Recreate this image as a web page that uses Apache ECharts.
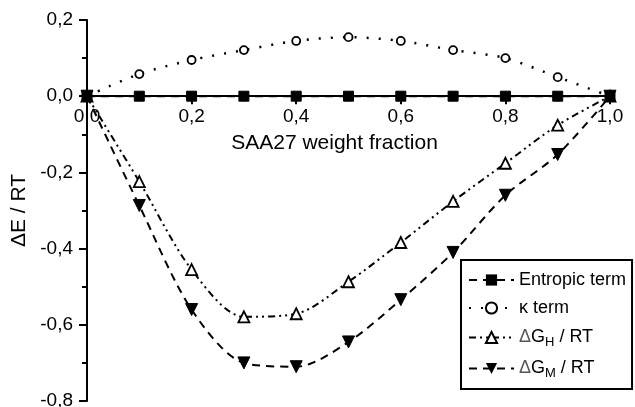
<!DOCTYPE html>
<html>
<head>
<meta charset="utf-8">
<script src="https://cdn.jsdelivr.net/npm/echarts@6/dist/echarts.min.js"></script>
<style>
  html, body { margin: 0; padding: 0; background: #fff; }
  #main { width: 635px; height: 407px; }
</style>
</head>
<body>
<div id="main"></div>
<script>
// weight fraction of SAA27
const fractions = [0, 0.1, 0.2, 0.3, 0.4, 0.5, 0.6, 0.7, 0.8, 0.9, 1.0];
// series values
const entropicTerm = [0, 0, 0, 0, 0, 0, 0, 0, 0, 0, 0];
const kappaTerm = [0, 0.058, 0.095, 0.121, 0.145, 0.155, 0.145, 0.121, 0.1, 0.05, 0];
const dGH = [0, -0.224, -0.455, -0.579, -0.571, -0.487, -0.384, -0.276, -0.176, -0.076, 0];
const dGM = [0, -0.287, -0.56, -0.70, -0.71, -0.645, -0.534, -0.41, -0.26, -0.153, 0];

const pairs = (ys) => fractions.map((x, i) => [x, ys[i]]);
const comma = (v) => v.toFixed(1).replace('.', ',');

const font = 'Liberation Sans, Arial, sans-serif';

// plot area (px)
const gTop = 20, gBottom = 6, H = 407;
const yMin = -0.8, yMax = 0.2;
// lift the x axis up to the y = 0 line
const zeroLift = -((H - gTop - gBottom) * (0 - yMin) / (yMax - yMin));

let myChart = echarts.init(document.getElementById('main'));
let option = {
    animation: false,
    backgroundColor: '#fff',
    textStyle: { fontFamily: font, color: '#000' },
    grid: { left: 87, right: 25, top: gTop, bottom: gBottom, outerBoundsMode: 'none', containLabel: false },
    xAxis: {
        type: 'value',
        min: 0, max: 1, interval: 0.2,
        position: 'bottom',
        offset: zeroLift,
        name: 'SAA27 weight fraction',
        nameLocation: 'middle',
        nameGap: 37,
        nameTextStyle: { fontSize: 21, color: '#000', padding: [0, 28, 0, 0] },
        axisLine: { onZero: false, lineStyle: { color: '#000', width: 2 } },
        axisTick: { show: true, length: 8, lineStyle: { color: '#000', width: 2 } },
        minorTick: { show: true, splitNumber: 2, length: 5, lineStyle: { color: '#000', width: 2 } },
        axisLabel: { fontSize: 19, color: '#000', margin: 11, formatter: comma },
        splitLine: { show: false }
    },
    yAxis: {
        type: 'value',
        min: yMin, max: yMax, interval: 0.2,
        name: 'ΔE / RT',
        nameLocation: 'middle',
        nameGap: 50,
        nameTextStyle: { fontSize: 21, color: '#000' },
        axisLine: { show: true, onZero: false, lineStyle: { color: '#000', width: 2 } },
        axisTick: { show: true, length: 8, lineStyle: { color: '#000', width: 2 } },
        minorTick: { show: true, splitNumber: 2, length: 5, lineStyle: { color: '#000', width: 2 } },
        axisLabel: { fontSize: 19, color: '#000', margin: 14, formatter: comma },
        splitLine: { show: false }
    },
    legend: {
        orient: 'vertical',
        left: 461, top: 260,
        backgroundColor: '#fff',
        borderColor: '#000', borderWidth: 2, borderRadius: 0,
        padding: [10, 6, 9, 7],
        itemWidth: 45, itemHeight: 14, itemGap: 8,
        textStyle: {
            fontSize: 18, color: '#000', lineHeight: 20,
            rich: {
                d: { fontSize: 18, lineHeight: 20, color: '#555' },
                n: { fontSize: 18, lineHeight: 20, color: '#000' },
                s: { fontSize: 13, lineHeight: 10, padding: [10, 0, 0, 0], color: '#000' }
            }
        },
        formatter: function (name) {
            if (name === 'dGH') return '{d|Δ}{n|G}{s|H}{n| / RT}';
            if (name === 'dGM') return '{d|Δ}{n|G}{s|M}{n| / RT}';
            return name;
        },
        data: ['Entropic term', 'κ term', 'dGH', 'dGM']
    },
    series: [
        {
            name: 'dGH', type: 'line', data: pairs(dGH), smooth: 0.3,
            symbol: 'triangle', symbolSize: 11,
            itemStyle: { color: '#fff', borderColor: '#000', borderWidth: 1.8 },
            lineStyle: { color: '#000', width: 2, type: [7, 4, 2, 4, 2, 4] }
        },
        {
            name: 'dGM', type: 'line', data: pairs(dGM), smooth: 0.3,
            symbol: 'triangle', symbolRotate: 180, symbolSize: 12,
            itemStyle: { color: '#000', borderColor: '#000' },
            lineStyle: { color: '#000', width: 2, type: [8, 6] }
        },
        {
            name: 'κ term', type: 'line', data: pairs(kappaTerm), smooth: 0.3,
            symbol: 'circle', symbolSize: 8,
            itemStyle: { color: '#fff', borderColor: '#000', borderWidth: 1.8 },
            lineStyle: { color: '#000', width: 2.5, type: [2, 10] }
        },
        {
            name: 'Entropic term', type: 'line', data: pairs(entropicTerm),
            symbol: 'rect', symbolSize: 10,
            itemStyle: { color: '#000', borderColor: '#000' },
            lineStyle: { color: '#000', width: 2, type: [8, 6] }
        }
    ]
};
myChart.setOption(option);
</script>
</body>
</html>
